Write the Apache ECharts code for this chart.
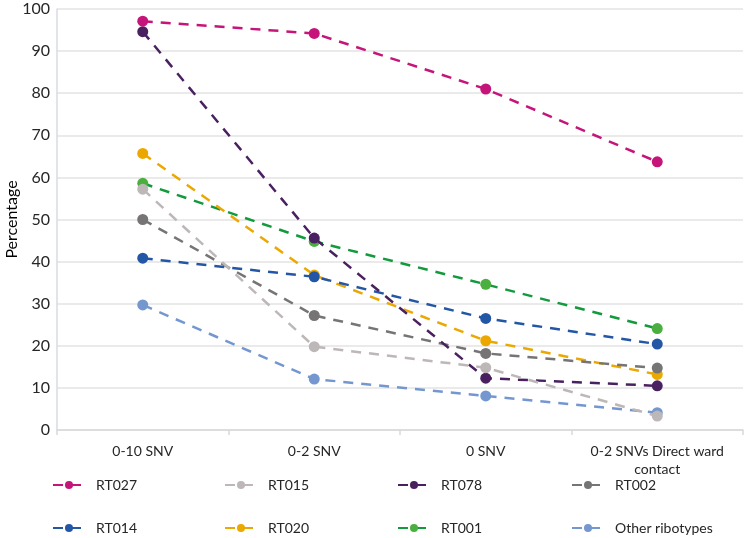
<!DOCTYPE html>
<html><head><meta charset="utf-8">
<script src="https://cdn.jsdelivr.net/npm/echarts@6/dist/echarts.min.js"></script>
<style>html,body{margin:0;padding:0;background:#fff}#c{width:745px;height:538px}</style>
</head><body><div id="c"></div>
<script>
const categories = ['0-10 SNV', '0-2 SNV', '0 SNV', '0-2 SNVs Direct ward\ncontact'];
const yTicks = [0, 10, 20, 30, 40, 50, 60, 70, 80, 90, 100];
const RT027 = [97.1, 94.2, 81.0, 63.7];
const RT015 = [57.2, 19.8, 14.8, 3.3];
const RT078 = [94.6, 45.6, 12.3, 10.5];
const RT002 = [50.0, 27.2, 18.2, 14.7];
const RT014 = [40.8, 36.4, 26.5, 20.4];
const RT020 = [65.7, 36.8, 21.2, 13.2];
const RT001 = [58.6, 44.8, 34.6, 24.1];
const Other = [29.7, 12.1, 8.1, 4.1];
const seriesNames = ['RT027', 'RT015', 'RT078', 'RT002', 'RT014', 'RT020', 'RT001', 'Other ribotypes'];
const seriesData = [RT027, RT015, RT078, RT002, RT014, RT020, RT001, Other];
const lineColors = ['#C6157A', '#BDB8B7', '#4A2160', '#767474', '#2357A5', '#EBA800', '#129A3C', '#7497D0'];
const markColors = ['#C6157A', '#BDB8B7', '#4A2160', '#767474', '#2357A5', '#EBA800', '#4AAF3E', '#7497D0'];

const font = 'Lato, "Open Sans", sans-serif';
const chart = echarts.init(document.getElementById('c'));

const series = seriesNames.map((n, i) => ({
  name: n, type: 'line', data: seriesData[i],
  symbol: 'circle', symbolSize: 11,
  lineStyle: { color: lineColors[i], width: 2.5, type: [10, 8] },
  itemStyle: { color: markColors[i] },
  z: 10 - i
}));

const legLeft = [52, 224, 397, 571];
const legTop = [478, 521];
const legends = seriesNames.map((n, i) => ({
  left: legLeft[i % 4], top: legTop[Math.floor(i / 4)],
  itemWidth: 32, itemHeight: 10, padding: 0,
  data: [n],
  textStyle: { fontFamily: font, fontSize: 14, color: '#262626', padding: [0, 0, 0, 6] }
}));

chart.setOption({
  animation: false,
  grid: { left: 57, right: 2, top: 9, bottom: 108, containLabel: false, outerBoundsMode: 'none' },
  legend: legends,
  xAxis: {
    type: 'category', data: categories, boundaryGap: true,
    axisLine: { lineStyle: { color: '#D9D9D9', width: 1.5 } },
    axisTick: { show: true, length: 5, interval: 0, lineStyle: { color: '#D9D9D9', width: 1.5 } },
    axisLabel: { interval: 0, fontFamily: font, fontSize: 14, color: '#262626', margin: 12, lineHeight: 18 }
  },
  yAxis: {
    type: 'value', min: 0, max: 100, interval: 10,
    name: 'Percentage', nameLocation: 'middle', nameGap: 37, nameRotate: 90,
    nameMoveOverlap: false,
    nameTextStyle: { fontFamily: font, fontSize: 16, color: '#000' },
    axisLine: { show: true, lineStyle: { color: '#D6DCE5', width: 1.5 } },
    axisTick: { show: false },
    axisLabel: { fontFamily: font, fontSize: 16, color: '#262626', margin: 7,
      formatter: v => yTicks.includes(v) ? String(v) : '' },
    splitLine: { lineStyle: { color: '#E3E3E3', width: 1.5 } }
  },
  series
});
</script></body></html>
